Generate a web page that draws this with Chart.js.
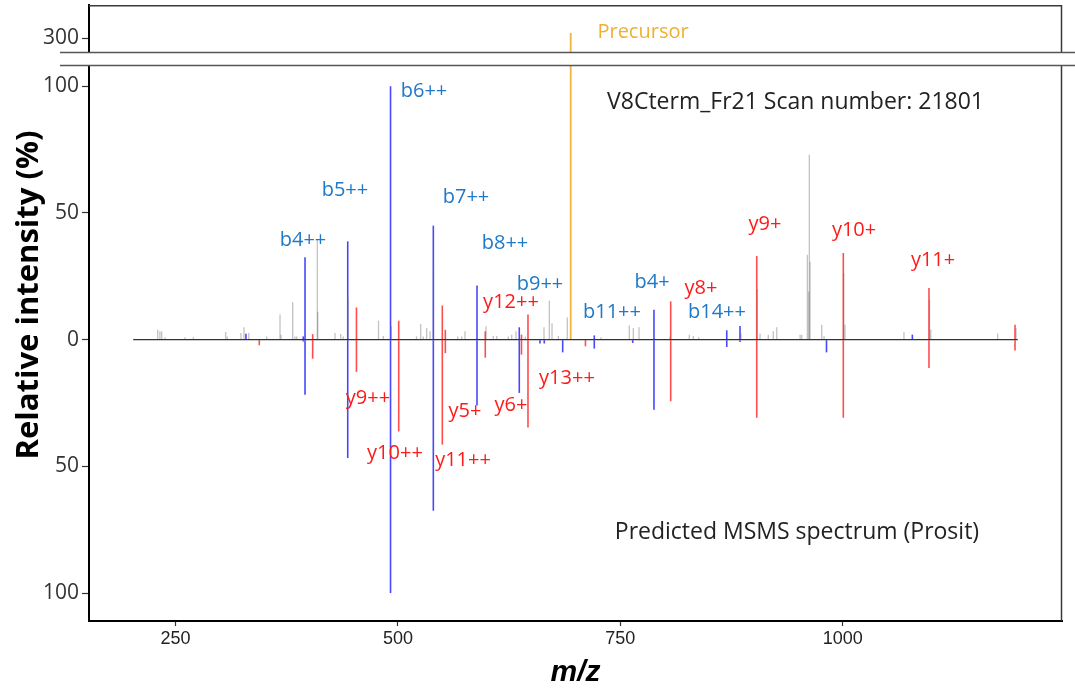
<!DOCTYPE html>
<html>
<head>
<meta charset="utf-8">
<title>Mirror spectrum</title>
<script src="https://cdn.jsdelivr.net/npm/chart.js@4.4.1/dist/chart.umd.min.js"></script>
<style>
  html, body { margin: 0; padding: 0; background: #fff; }
  #wrap { width: 1075px; height: 691px; }
</style>
</head>
<body>
<div id="wrap"><canvas id="spectrum" width="1075" height="691"></canvas></div>
<script>
// axis ranges and ticks
const xMin = 152.8, xMax = 1246.4;
const xTicks = [250, 500, 750, 1000];
const topMin = 289, topMax = 313;
const topTicks = [300];
const lowMin = -111, lowMax = 108;
const yTicks = [-100, -50, 0, 50, 100];
const baseFrom = 202.5, baseTo = 1196.7;

// measured spectrum (drawn upward): b ions, y ions, unassigned peaks
const obsBMz  = [329.2, 393.6, 395.6, 443.6, 491.7, 539.8, 588.9, 636.4, 720.7, 787.8, 869.6, 884.5, 1078.2];
const obsBInt = [2.3, 1.3, 32.5, 38.8, 100, 45, 21.4, 4.9, 1.7, 11.8, 3.7, 5.4, 2];

const obsYMz  = [404.2, 453.4, 500.9, 549.9, 553.3, 598.2, 638.9, 646.2, 806.6, 903.3, 1000.6, 1096.9, 1193.6];
const obsYInt = [2.2, 12.7, 7.5, 13.5, 3.9, 3.3, 2, 9.9, 15.1, 33, 34.2, 20.4, 5.9];

const otherMz  = [230.0, 232.5, 234.5, 238.2, 260.7, 270.0, 306.4, 308.2, 323.6, 327.0, 332.3, 352.5,
                  367.5, 368.6, 381.7, 384.3, 386.2, 409.4, 409.9, 429.3, 435.7, 438.6, 443.9, 478.2,
                  483.6, 492.6, 520.9, 525.6, 528.5, 532.3, 536.1, 540.0, 567.2, 571.7, 575.4, 599.0,
                  607.2, 611.0, 624.1, 627.9, 632.7, 643.2, 664.2, 670.2, 673.2, 680.3, 690.4, 728.3,
                  760.1, 764.6, 771.0, 805.8, 827.5, 832.0, 838.1, 885.6, 903.9, 907.0, 916.3, 921.9,
                  925.8, 952.0, 953.8, 960.2, 961.8, 962.4, 963.2, 976.3, 978.9, 1001.0, 1002.5, 1068.8,
                  1097.5, 1098.9, 1174.1, 1194.7];
const otherInt = [3.9, 3.3, 3.3, 1, 1, 1, 3, 1.3, 2.6, 4.9, 2.6, 1.3,
                  9.9, 2, 14.8, 1.3, 1.3, 39.4, 11, 2.6, 2.2, 1.3, 16.6, 7.5,
                  1.5, 5.3, 1.3, 6.2, 1.3, 4.6, 3.3, 29.6, 1.3, 1.3, 3.3, 5.3,
                  1.5, 1.5, 1.3, 2, 3.3, 1.3, 4.9, 15.4, 6.5, 1.5, 8.8, 1,
                  5.6, 4.6, 4.9, 1.3, 2, 1.5, 1, 2.4, 20, 2.4, 2, 3.3,
                  4.9, 2, 2, 33.5, 19, 73, 30.8, 5.9, 1.5, 26.3, 5.9, 3,
                  15.8, 4, 2.4, 4.6];

// predicted spectrum (drawn downward)
const predBMz  = [393.6, 395.6, 443.6, 491.7, 539.8, 588.9, 636.4, 659.7, 664.5, 685.2, 720.7, 763.9, 787.8, 869.6, 884.5, 981.7];
const predBInt = [0.7, 21.7, 46.7, 100, 67.5, 26, 21, 1.5, 1.5, 5, 3.5, 1.3, 27.6, 2.9, 0.9, 5];

const predYMz  = [344.2, 404.2, 453.4, 500.9, 549.9, 553.3, 598.2, 638.9, 646.2, 710.8, 806.6, 903.3, 1000.6, 1096.9, 1193.6];
const predYInt = [2.2, 7.5, 12.7, 36.2, 41.4, 5.3, 7.1, 5.9, 34.6, 2.6, 24.3, 30.8, 30.8, 11.2, 4.3];

const precursorMz = 694.2;
const precursorInt = 302;

// fragment annotations
const ionLabels = ['b4++', 'b5++', 'b6++', 'b7++', 'b8++', 'b9++', 'b11++', 'b4+', 'b14++',
                   'y12++', 'y9++', 'y10++', 'y11++', 'y5+', 'y6+', 'y13++', 'y8+', 'y9+', 'y10+', 'y11+'];
const ionLabelMz = [393.3, 440.5, 529.3, 576.5, 620.4, 659.7, 740.6, 785.6, 858.6,
                    627.1, 466.4, 496.7, 573.2, 575.4, 627.1, 690.0, 840.7, 912.6, 1012.7, 1101.5];
const ionLabelY  = [39.4, 58.8, 98.2, 56, 37.9, 21.7, 10.7, 22.5, 10.7,
                    14.6, -23.3, -45, -47.7, -28.4, -26, -15.4, 20.1, 45.4, 43, 31.2];

const scanTitle = 'V8Cterm_Fr21 Scan number: 21801';
const predTitle = 'Predicted MSMS spectrum (Prosit)';

const BLUE = 'rgba(0, 0, 255, 0.72)';
const RED = 'rgba(255, 0, 0, 0.7)';
const GREY = 'rgba(110, 110, 110, 0.42)';
const ORANGE = 'rgba(236, 168, 28, 0.85)';
const sans = "'Open Sans', 'Noto Sans', sans-serif";

const up = (mz, ints) => mz.map((m, i) => ({ x: m, y: [0, ints[i]] }));
const down = (mz, ints) => mz.map((m, i) => ({ x: m, y: [-ints[i], 0] }));

function peaks(label, data, color, width, order, axis) {
    return {
        type: 'bar',
        label: label,
        data: data,
        backgroundColor: color,
        barThickness: width,
        inflateAmount: 0,
        borderWidth: 0,
        stack: 'peaks',
        order: order,
        yAxisID: axis || 'y'
    };
}

// broken frame, annotations and the rotated y title
const decorations = {
    id: 'decorations',
    afterDraw(chart) {
        const { ctx, chartArea: a, scales } = chart;
        const x = scales.x, y = scales.y, yTop = scales.yTop;
        const gapTop = yTop.bottom - 14;
        const gapBottom = y.top;

        ctx.save();
        ctx.strokeStyle = '#3a3a3a';
        ctx.lineWidth = 1.5;
        ctx.beginPath();
        ctx.moveTo(a.left, a.top + 0.75);
        ctx.lineTo(a.right, a.top + 0.75);
        ctx.moveTo(a.right - 0.5, a.top);
        ctx.lineTo(a.right - 0.5, a.bottom);
        ctx.stroke();

        // gap between the two panels
        ctx.fillStyle = '#fff';
        ctx.fillRect(60, gapTop, 1075 - 60, gapBottom - gapTop);
        ctx.strokeStyle = '#555';
        ctx.lineWidth = 1.3;
        ctx.beginPath();
        ctx.moveTo(60, gapTop + 0.5);
        ctx.lineTo(1075, gapTop + 0.5);
        ctx.moveTo(60, gapBottom - 0.5);
        ctx.lineTo(1075, gapBottom - 0.5);
        ctx.stroke();

        ctx.textAlign = 'center';
        ctx.textBaseline = 'middle';
        ctx.font = '20px ' + sans;
        ionLabels.forEach((t, i) => {
            ctx.fillStyle = t[0] === 'b' ? '#1F78C8' : '#FF1A1A';
            ctx.fillText(t, x.getPixelForValue(ionLabelMz[i]), y.getPixelForValue(ionLabelY[i]));
        });
        ctx.fillStyle = '#EFB02F';
        ctx.fillText('Precursor', x.getPixelForValue(775.5), yTop.getPixelForValue(302.4));

        ctx.fillStyle = '#222';
        ctx.font = '23px ' + sans;
        ctx.fillText(scanTitle, x.getPixelForValue(946.9), y.getPixelForValue(93.5));
        ctx.fillText(predTitle, x.getPixelForValue(948.5), y.getPixelForValue(-76.1));

        ctx.translate(29, 295);
        ctx.rotate(-Math.PI / 2);
        ctx.fillStyle = '#000';
        ctx.font = 'bold 31px ' + sans;
        ctx.fillText('Relative intensity (%)', 0, 0);
        ctx.restore();
    }
};

const xGrid = { drawOnChartArea: false, drawTicks: true, offset: false, tickLength: 5, tickColor: '#333', tickWidth: 1.2 };
const yGrid = { drawOnChartArea: false, drawTicks: true, offset: false, tickLength: 7, tickColor: '#333', tickWidth: 1.2 };
const axisBorder = { display: true, color: '#000', width: 2 };
const setTicks = list => scale => { scale.ticks = list.map(v => ({ value: v })); };

// fixed axis boxes so the plot area lands at left 89, top 5, right 1062, bottom 621
const fixBox = (w, h) => s => {
    if (w) s.width = w;
    if (h) s.height = h;
    s.paddingTop = s.paddingBottom = s.paddingLeft = s.paddingRight = 0;
};

new Chart(document.getElementById('spectrum'), {
    data: {
        datasets: [
            {
                type: 'line',
                label: 'baseline',
                data: [{ x: baseFrom, y: 0 }, { x: baseTo, y: 0 }],
                borderColor: '#333',
                borderWidth: 1.2,
                pointRadius: 0,
                order: 0,
                yAxisID: 'y'
            },
            peaks('unassigned', up(otherMz, otherInt), GREY, 1.3, 1),
            peaks('b ions', up(obsBMz, obsBInt), BLUE, 1.6, 2),
            peaks('y ions', up(obsYMz, obsYInt), RED, 1.6, 2),
            peaks('predicted b ions', down(predBMz, predBInt), BLUE, 1.6, 2),
            peaks('predicted y ions', down(predYMz, predYInt), RED, 1.6, 2),
            peaks('precursor', [{ x: precursorMz, y: [0, lowMax] }], ORANGE, 1.8, 3),
            peaks('precursor top', [{ x: precursorMz, y: [topMin, precursorInt] }], ORANGE, 1.8, 3, 'yTop')
        ]
    },
    options: {
        responsive: false,
        animation: false,
        devicePixelRatio: 1,
        layout: { padding: { left: 0, right: 13, top: 5, bottom: 0 } },
        plugins: {
            legend: { display: false },
            tooltip: { enabled: false }
        },
        scales: {
            x: {
                type: 'linear',
                min: xMin,
                max: xMax,
                offset: false,
                stacked: true,
                afterBuildTicks: setTicks(xTicks),
                afterFit: fixBox(0, 70),
                grid: xGrid,
                border: axisBorder,
                ticks: {
                    font: { family: "'Liberation Sans', Arial, sans-serif", size: 18 },
                    color: '#222',
                    padding: 2,
                    maxRotation: 0,
                    callback: v => String(v)
                },
                title: {
                    display: true,
                    text: 'm/z',
                    color: '#000',
                    padding: 0,
                    font: { family: "'Liberation Sans', Arial, sans-serif", size: 30, weight: 'bold', style: 'italic' }
                }
            },
            yTop: {
                type: 'linear',
                position: 'left',
                stack: 'intensity',
                stackWeight: 61,
                weight: 1,
                stacked: false,
                min: topMin,
                max: topMax,
                afterBuildTicks: setTicks(topTicks),
                afterFit: fixBox(89, 0),
                grid: yGrid,
                border: axisBorder,
                ticks: { font: { family: sans, size: 21 }, color: '#333', padding: 3 }
            },
            y: {
                type: 'linear',
                position: 'left',
                stack: 'intensity',
                stackWeight: 555,
                weight: 0,
                stacked: false,
                min: lowMin,
                max: lowMax,
                afterBuildTicks: setTicks(yTicks),
                afterFit: fixBox(89, 0),
                grid: yGrid,
                border: axisBorder,
                ticks: {
                    font: { family: sans, size: 21 },
                    color: '#333',
                    padding: 3,
                    callback: v => String(Math.abs(v))
                }
            }
        }
    },
    plugins: [decorations]
});
</script>
</body>
</html>
